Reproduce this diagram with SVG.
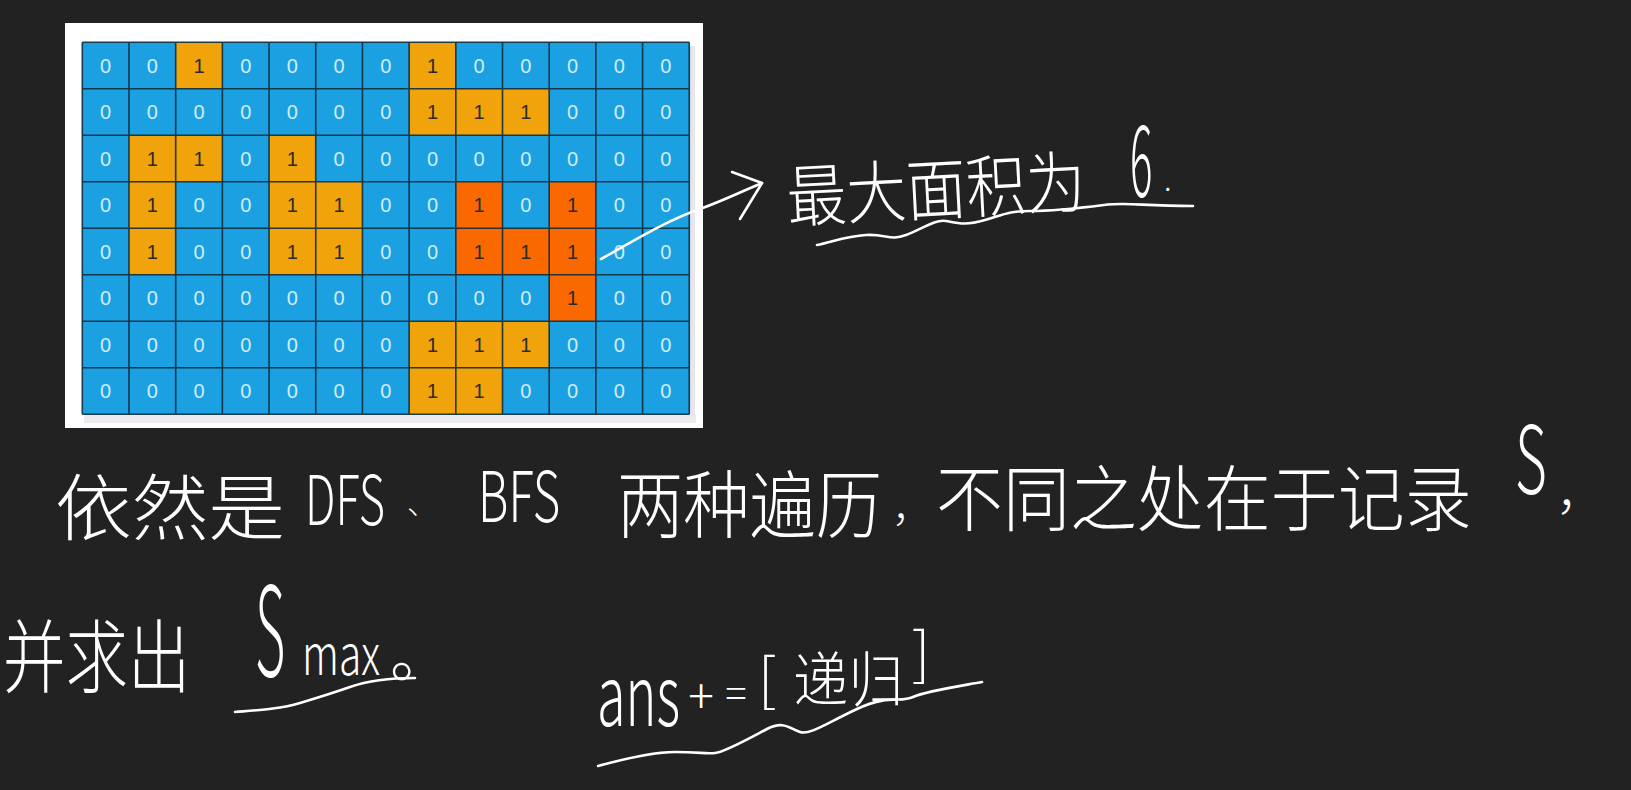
<svg xmlns="http://www.w3.org/2000/svg" width="1631" height="790" viewBox="0 0 1631 790">
<style>
.bg{fill:#222222}
.hw{fill:#ffffff;font-family:"Noto Sans CJK SC","Noto Sans",sans-serif;font-weight:300}
.ink{fill:none;stroke:#ffffff;stroke-width:2.6;stroke-linecap:round;stroke-linejoin:round}
.blue{fill:#1ba1e2}
.amber{fill:#f0a30a}
.red{fill:#fa6800}
.gl{fill:none;stroke:#0f2b3b;stroke-width:1.6;stroke-opacity:0.9}
.num{font-family:"Liberation Sans",Arial,sans-serif;font-size:20px;text-anchor:middle;fill:#d3ecf9}
.one{fill:#2b2b2b}
</style>
<rect class="bg" x="0" y="0" width="1631" height="790"/>

<g id="grid-card">
  <rect x="65" y="23" width="638" height="405" fill="#ffffff"/>
  <rect x="84" y="414" width="612" height="9" fill="#ececf0"/>
  <rect x="689" y="46" width="6" height="370" fill="#e6e6ec"/>
</g>

<g id="grid">
  <rect class="blue" x="82.3" y="42.3" width="607" height="372"/>
  <rect class="amber" x="175.68" y="42.3" width="46.69" height="46.5"/>
  <rect class="amber" x="409.13" y="42.3" width="46.69" height="46.5"/>
  <rect class="amber" x="409.13" y="88.8" width="140.07" height="46.5"/>
  <rect class="amber" x="128.99" y="135.3" width="93.38" height="46.5"/>
  <rect class="amber" x="269.06" y="135.3" width="46.69" height="46.5"/>
  <rect class="amber" x="128.99" y="181.8" width="46.69" height="93"/>
  <rect class="amber" x="269.06" y="181.8" width="93.38" height="93"/>
  <rect class="amber" x="409.13" y="321.3" width="140.07" height="46.5"/>
  <rect class="amber" x="409.13" y="367.8" width="93.38" height="46.5"/>
  <rect class="red" x="455.82" y="181.8" width="46.69" height="93"/>
  <rect class="red" x="502.51" y="228.3" width="46.69" height="46.5"/>
  <rect class="red" x="549.2" y="181.8" width="46.69" height="139.5"/>
  <path class="gl" d="M82.3,42.3V414.3M128.99,42.3V414.3M175.68,42.3V414.3M222.37,42.3V414.3M269.06,42.3V414.3M315.75,42.3V414.3M362.44,42.3V414.3M409.13,42.3V414.3M455.82,42.3V414.3M502.51,42.3V414.3M549.2,42.3V414.3M595.89,42.3V414.3M642.58,42.3V414.3M689.27,42.3V414.3M82.3,42.3H689.27M82.3,88.8H689.27M82.3,135.3H689.27M82.3,181.8H689.27M82.3,228.3H689.27M82.3,274.8H689.27M82.3,321.3H689.27M82.3,367.8H689.27M82.3,414.3H689.27"/>
  <g class="num">
    <text x="105.65 152.34 199.03 245.72 292.41 339.1 385.79 432.48 479.17 525.86 572.55 619.24 665.93" y="72.8">00<tspan class="one">1</tspan>0000<tspan class="one">1</tspan>00000</text>
    <text x="105.65 152.34 199.03 245.72 292.41 339.1 385.79 432.48 479.17 525.86 572.55 619.24 665.93" y="119.3">0000000<tspan class="one">111</tspan>000</text>
    <text x="105.65 152.34 199.03 245.72 292.41 339.1 385.79 432.48 479.17 525.86 572.55 619.24 665.93" y="165.8">0<tspan class="one">11</tspan>0<tspan class="one">1</tspan>00000000</text>
    <text x="105.65 152.34 199.03 245.72 292.41 339.1 385.79 432.48 479.17 525.86 572.55 619.24 665.93" y="212.3">0<tspan class="one">1</tspan>00<tspan class="one">11</tspan>00<tspan class="one">1</tspan>0<tspan class="one">1</tspan>00</text>
    <text x="105.65 152.34 199.03 245.72 292.41 339.1 385.79 432.48 479.17 525.86 572.55 619.24 665.93" y="258.8">0<tspan class="one">1</tspan>00<tspan class="one">11</tspan>00<tspan class="one">111</tspan>00</text>
    <text x="105.65 152.34 199.03 245.72 292.41 339.1 385.79 432.48 479.17 525.86 572.55 619.24 665.93" y="305.3">0000000000<tspan class="one">1</tspan>00</text>
    <text x="105.65 152.34 199.03 245.72 292.41 339.1 385.79 432.48 479.17 525.86 572.55 619.24 665.93" y="351.8">0000000<tspan class="one">111</tspan>000</text>
    <text x="105.65 152.34 199.03 245.72 292.41 339.1 385.79 432.48 479.17 525.86 572.55 619.24 665.93" y="398.3">0000000<tspan class="one">11</tspan>0000</text>
  </g>
</g>

<g id="connectors">
  <path class="ink" d="M601,259 C630,243 665,221 700,209 C725,200 745,190 762,183"/>
  <path class="ink" d="M732,172 L762,183 L740,219"/>
  <path class="ink" d="M817,245 C830,243 845,236 866,235 S890,241 906,235 S935,219 946,221 S965,226 985,220 S1010,211 1030,211 S1080,208 1104,205 S1140,206 1193,206"/>
  <path class="ink" d="M235,712 C260,710 280,709 300,703 S330,694 350,687 S395,678 415,678"/>
  <path class="ink" d="M598,766 C620,760 650,752 675,752 S705,754 715,753 S750,738 767,729 S790,729 800,732 S825,724 857,709 S900,703 913,697 S960,686 982,682"/>
</g>

<g id="title-note">
  <text class="hw" transform="rotate(-3 788 222) translate(788,222) scale(0.88,1)" font-size="68" textLength="340" lengthAdjust="spacingAndGlyphs">最大面积为</text>
  <text class="hw" transform="translate(1130,197) scale(0.42,1)" font-size="100">6</text>
  <text class="hw" x="1164" y="191" font-size="30">.</text>
</g>

<g id="line-2">
  <text class="hw" x="55" y="534" font-size="72" textLength="230" lengthAdjust="spacingAndGlyphs">依然是</text>
  <text class="hw" transform="translate(305,525) scale(0.74,1)" font-size="68" textLength="108" lengthAdjust="spacingAndGlyphs">DFS</text>
  <text class="hw" x="407" y="514" font-size="30">、</text>
  <text class="hw" transform="translate(478,522) scale(0.74,1)" font-size="70" textLength="111" lengthAdjust="spacingAndGlyphs">BFS</text>
  <text class="hw" transform="translate(617,532) scale(0.895,1)" font-size="74" textLength="296" lengthAdjust="spacingAndGlyphs">两种遍历</text>
  <text class="hw" x="892" y="522" font-size="40">，</text>
  <text class="hw" transform="translate(936,525) scale(0.93,1)" font-size="72" textLength="576" lengthAdjust="spacingAndGlyphs">不同之处在于记录</text>
  <text class="hw" transform="translate(1515,494) scale(0.65,1)" font-size="94" textLength="49" lengthAdjust="spacingAndGlyphs">S</text>
  <text class="hw" x="1556" y="510" font-size="48">，</text>
</g>

<g id="line-3">
  <text class="hw" transform="translate(3,686) scale(0.78,1)" font-size="80" textLength="240" lengthAdjust="spacingAndGlyphs">并求出</text>
  <text class="hw" transform="translate(255,676) scale(0.42,1)" font-size="124">S</text>
  <text class="hw" transform="translate(302,675) scale(0.78,1)" font-size="56" textLength="100" lengthAdjust="spacingAndGlyphs">max</text>
  <text class="hw" x="390" y="677" font-size="60">。</text>
</g>

<g id="line-4">
  <text class="hw" transform="translate(597,726) scale(0.675,1)" font-size="84" textLength="123" lengthAdjust="spacingAndGlyphs">ans</text>
  <text class="hw" x="701" y="714" font-size="48" text-anchor="middle">+</text>
  <text class="hw" x="736" y="708" font-size="40" text-anchor="middle">=</text>
  <text class="hw" x="758" y="700" font-size="58">[</text>
  <text class="hw" transform="translate(793,702) scale(0.92,1)" font-size="60" textLength="120" lengthAdjust="spacingAndGlyphs">递归</text>
  <text class="hw" x="912" y="674" font-size="58">]</text>
</g>
</svg>
